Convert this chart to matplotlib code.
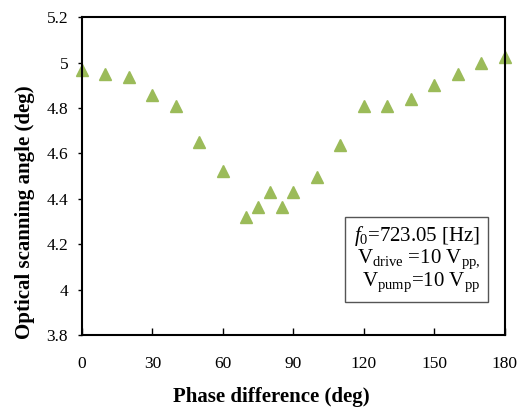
import matplotlib
matplotlib.use("Agg")
import matplotlib.pyplot as plt

# phase difference (deg) vs optical scanning angle (deg)
phase = [0, 10, 20, 30, 40, 50, 60, 70, 75, 80, 85, 90, 100, 110, 120, 130, 140, 150, 160, 170, 180]
angle = [4.965, 4.95, 4.935, 4.855, 4.81, 4.65, 4.52, 4.32, 4.365, 4.43, 4.365, 4.43,
         4.495, 4.635, 4.81, 4.81, 4.84, 4.90, 4.95, 5.0, 5.025]

x_ticks = [0, 30, 60, 90, 120, 150, 180]
y_ticks = [3.8, 4, 4.2, 4.4, 4.6, 4.8, 5, 5.2]
y_labels = ["3.8", "4", "4.2", "4.4", "4.6", "4.8", "5", "5.2"]

plt.rcParams['font.family'] = ['Liberation Serif', 'DejaVu Serif']
plt.rcParams['mathtext.fontset'] = 'custom'
plt.rcParams['mathtext.rm'] = 'Liberation Serif'
plt.rcParams['mathtext.it'] = 'Liberation Serif:italic'

fig = plt.figure(figsize=(5.22, 4.07), dpi=100)
ax = fig.add_axes([0.157, 0.177, 0.81, 0.781])

ax.plot(phase, angle, linestyle='none', marker='^', ms=8.5, color='#9BBB59',
        markeredgecolor='#9BBB59', clip_on=False)

ax.set_xlim(0, 180)
ax.set_ylim(3.8, 5.2)
ax.set_xticks(x_ticks)
ax.set_yticks(y_ticks)
ax.set_yticklabels(y_labels)
ax.tick_params(axis='x', direction='in', length=5, width=1, labelsize=12.5, pad=15)
ax.tick_params(axis='y', direction='out', length=3, width=1, labelsize=12.5, pad=7)
for s in ax.spines.values():
    s.set_linewidth(1.5)

ax.set_xlabel("Phase difference (deg)", fontsize=15, fontweight='bold', va='center')
ax.set_ylabel("Optical scanning angle (deg)", fontsize=15, fontweight='bold', va='center')
ax.xaxis.set_label_coords(0.449, -0.195)
ax.yaxis.set_label_coords(-0.135, 0.387)

txt = ("$\\mathit{f_0}$=723.05 [Hz]\n"
       "V$_{\\mathrm{drive}}$ =10 V$_{\\mathrm{pp,}}$\n"
       "V$_{\\mathrm{pump}}$=10 V$_{\\mathrm{pp}}$")
ax.text(0.792, 0.239, txt, transform=ax.transAxes, fontsize=15, ha='center', va='center',
        multialignment='right', linespacing=0.95,
        bbox=dict(boxstyle='square,pad=0.4', facecolor='white', edgecolor='#555555', linewidth=1))

fig.savefig("out.png", dpi=100)
